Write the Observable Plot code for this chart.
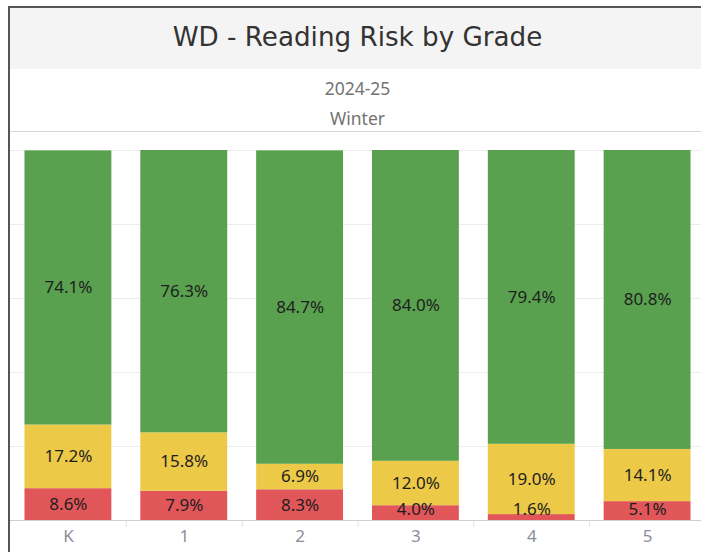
<!DOCTYPE html>
<html><head><meta charset="utf-8">
<script src="https://cdn.jsdelivr.net/npm/d3@7"></script>
<script src="https://cdn.jsdelivr.net/npm/@observablehq/plot@0.6"></script>
<style>
html,body{margin:0;padding:0;background:#fff;overflow:hidden;}
#wrap{position:relative;width:701px;height:552px;overflow:hidden;font-family:"Noto Sans",sans-serif;background:#fff;}
#titlebar{position:absolute;left:10px;top:8px;width:695px;height:61px;background:#f4f4f4;display:flex;align-items:center;justify-content:center;font-family:"DejaVu Sans",sans-serif;font-size:26.2px;color:#333;box-sizing:border-box;padding-bottom:3px;}
.sub{position:absolute;left:10px;width:695px;text-align:center;font-size:17.5px;color:#737373;line-height:22px;}
#divider{position:absolute;left:10px;top:131px;width:695px;height:1px;background:#d6d6d6;}
#chart{position:absolute;left:0;top:132px;}
#lborder{position:absolute;left:8px;top:6px;width:2px;height:560px;background:#555;}
#tborder{position:absolute;left:8px;top:6px;width:700px;height:2px;background:#555;}
</style>
</head><body>
<div id="wrap">
  <div id="titlebar">WD - Reading Risk by Grade</div>
  <div class="sub" style="top:77px">2024-25</div>
  <div class="sub" style="top:107px">Winter</div>
  <div id="divider"></div>
  <div id="chart"></div>
  <div id="lborder"></div>
  <div id="tborder"></div>
</div>
<script>
const grades = ["K", "1", "2", "3", "4", "5"];
const redValues = [8.6, 7.9, 8.3, 4.0, 1.6, 5.1];
const yellowValues = [17.2, 15.8, 6.9, 12.0, 19.0, 14.1];
const greenValues = [74.1, 76.3, 84.7, 84.0, 79.4, 80.8];
const levels = ["High Risk", "Some Risk", "Low Risk"];
const levelColors = ["#e15759", "#edc948", "#59a14f"];
const yTicks = [0, 0.2, 0.4, 0.6, 0.8, 1.0];

const rows = [];
grades.forEach((g, i) => {
  const vals = [redValues[i], yellowValues[i], greenValues[i]];
  let base = 0;
  vals.forEach((v, j) => {
    const y1 = base / 100, y2 = (base + v) / 100;
    const mid = (y1 + y2) / 2;
    rows.push({grade: g, level: levels[j], value: v, y1, y2, ly: j === 0 ? Math.max(mid, 0.03) : mid});
    base += v;
  });
});

const xRange = [10, 705];
const step = (xRange[1] - xRange[0]) / grades.length;
const plotH = 370;

const chart = Plot.plot({
  width: 701,
  height: 420,
  marginLeft: 10,
  marginRight: 0,
  marginTop: 18,
  marginBottom: 32,
  style: {fontFamily: '"Noto Sans", sans-serif', background: "transparent", overflow: "hidden"},
  x: {domain: grades, range: xRange, paddingInner: 0.25, paddingOuter: 0.125, round: false, axis: null},
  y: {domain: [0, 1], axis: null},
  color: {domain: levels, range: levelColors},
  marks: [
    Plot.ruleY(yTicks, {y: d => d, stroke: "#ececec", strokeWidth: 1}),
    Plot.rectY(rows, {x: "grade", y1: "y1", y2: "y2", fill: "level"}),
    Plot.ruleY([0], {stroke: "#cfcfcf", strokeWidth: 1}),
    Plot.ruleX(grades.slice(1), {x: d => d, dx: -step / 2, insetTop: plotH + 1, insetBottom: -7, stroke: "#e2e2e2"}),
    Plot.text(rows, {x: "grade", y: "ly", text: d => d.value.toFixed(1) + "%", fill: "#1e1e1e", fontSize: 17}),
    Plot.axisX({tickSize: 0, tickPadding: 9, fontSize: 17, fill: "#8a8e99", label: null})
  ]
});
document.getElementById("chart").appendChild(chart);
</script>
</body></html>
